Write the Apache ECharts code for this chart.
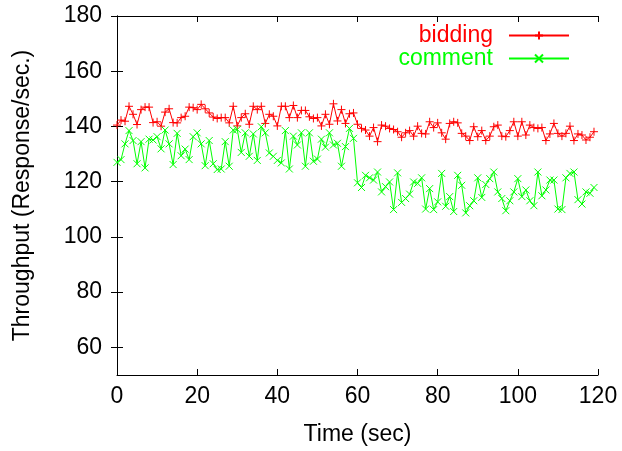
<!DOCTYPE html>
<html><head><meta charset="utf-8">
<script src="https://cdn.jsdelivr.net/npm/echarts@6/dist/echarts.min.js"></script>
<style>html,body{margin:0;padding:0;background:#fff}#c{width:622px;height:451px}</style>
</head><body><div id="c"></div>
<script>
var times = [];
for (var i = 0; i < 120; i++) times.push(i);
var bidding = [140.5,142.3,141.9,147.3,144.4,140.7,146.1,147.0,147.0,141.4,
141.7,140.1,145.2,146.4,141.4,141.3,143.2,143.7,147.0,146.8,
146.1,148.0,146.4,144.9,143.4,142.9,143.2,143.2,141.3,147.3,
140.2,143.2,144.6,140.8,147.3,146.1,147.3,141.1,144.4,143.7,
140.2,147.3,147.3,143.2,147.6,143.2,145.8,145.8,143.5,142.9,
143.2,140.2,144.4,140.8,148.2,142.0,146.1,141.1,144.6,144.9,
140.8,139.3,138.7,136.5,139.6,134.5,140.5,140.1,139.3,138.9,
138.1,136.1,137.7,138.5,136.5,140.1,137.5,137.3,141.7,139.6,
141.3,137.7,135.4,141.1,141.7,141.3,137.5,136.5,134.9,139.9,
136.3,138.5,134.9,136.5,139.9,140.5,136.5,136.3,138.5,141.7,
136.5,141.7,136.9,140.5,139.6,139.3,139.6,134.9,137.3,141.1,
137.5,136.5,137.5,140.1,134.9,137.3,136.9,135.1,136.1,138.1];
var comment = [127.0,128.0,133.7,138.5,134.9,126.5,134.5,125.0,135.4,135.1,
136.3,131.9,138.7,133.7,126.2,137.5,129.4,131.8,128.0,136.3,
137.7,133.7,125.8,134.9,126.5,124.4,124.6,134.5,125.6,138.7,
138.9,130.6,137.7,129.2,137.3,127.7,139.9,137.7,130.4,129.2,
127.7,126.8,138.5,124.6,136.5,133.3,137.7,125.6,137.7,127.4,
128.2,135.4,132.5,137.7,133.3,133.9,125.6,132.7,139.3,135.7,
119.6,117.9,122.3,121.4,120.6,123.5,116.3,118.2,119.9,109.9,
123.2,112.5,113.9,115.5,119.9,119.4,121.4,110.1,117.5,109.9,
112.7,123.0,111.1,114.6,109.2,122.3,118.7,108.7,111.3,113.1,
121.4,114.3,119.0,121.1,123.5,116.3,113.9,109.5,113.1,116.3,
121.1,114.6,117.0,113.1,111.3,123.5,114.9,117.0,120.6,120.6,
110.1,109.9,121.4,123.0,123.5,113.5,111.9,116.3,115.8,117.9];
var yTicks = [60,80,100,120,140,160,180];

function pairs(vals){ return times.map(function(t,i){ return [t, vals[i]]; }); }
var FONT = 'Liberation Sans';
var FS = 23;
var chart = echarts.init(document.getElementById('c'), null, {renderer:'canvas'});
var tick = {show:true, inside:true, length:6, lineStyle:{color:'#000'}};
var axisCommon = {
  axisLine:{show:true, lineStyle:{color:'#000', width:1}},
  splitLine:{show:false},
  axisTick:tick
};
chart.setOption({
  animation:false,
  grid:{left:117, right:24, top:16, bottom:71, containLabel:false},
  legend:{
    right:47, top:19, orient:'vertical', align:'right', itemWidth:60, itemHeight:10, itemGap:0,
    data:[{name:'bidding', textStyle:{color:'#ff0000'}},{name:'comment', textStyle:{color:'#00ff00'}}],
    textStyle:{fontFamily:FONT, fontSize:FS, padding:[0,11,0,0]}
  },
  xAxis:[
    Object.assign({type:'value', min:0, max:120, interval:20, position:'bottom',
      name:'Time (sec)', nameLocation:'middle', nameGap:48,
      nameTextStyle:{fontFamily:FONT, fontSize:FS, color:'#000'},
      axisLabel:{fontFamily:FONT, fontSize:FS, color:'#000', margin:10}}, axisCommon),
    Object.assign({type:'value', min:0, max:120, interval:20, position:'top',
      axisLabel:{show:false}}, axisCommon)
  ],
  yAxis:[
    Object.assign({type:'value', min:50, max:180, position:'left',
      name:'Throughput (Response/sec.)', nameLocation:'middle', nameGap:83,
      nameTextStyle:{fontFamily:FONT, fontSize:FS, color:'#000'},
      axisLabel:{fontFamily:FONT, fontSize:FS, color:'#000', margin:15, customValues:yTicks}
      }, axisCommon, {axisTick:Object.assign({customValues:yTicks}, tick)}),
    Object.assign({type:'value', min:50, max:180, position:'right',
      axisLabel:{show:false}}, axisCommon, {axisTick:Object.assign({customValues:yTicks}, tick)})
  ],
  series:[
    {name:'bidding', type:'line', data:pairs(bidding), symbol:'path://M5,0L5,10M0,5L10,5', symbolSize:8,
      lineStyle:{color:'#ff0000', width:1}, itemStyle:{color:'rgba(0,0,0,0)', borderColor:'#ff0000', borderWidth:1},
      color:'#ff0000'},
    {name:'comment', type:'line', data:pairs(comment), symbol:'path://M0,0L10,10M10,0L0,10', symbolSize:7,
      lineStyle:{color:'#00ff00', width:1}, itemStyle:{color:'rgba(0,0,0,0)', borderColor:'#00ff00', borderWidth:1},
      color:'#00ff00'}
  ]
});
</script></body></html>
